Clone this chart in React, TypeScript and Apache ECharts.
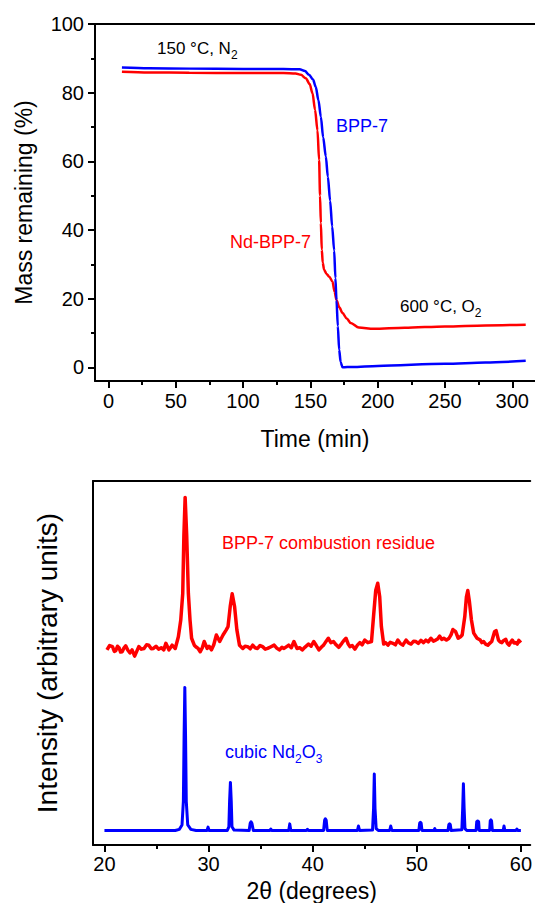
import React, { useEffect, useRef } from 'react';
import * as echarts from 'echarts';

// ---------- TGA panel (top) ----------
const tgaTimeTicks = [0, 50, 100, 150, 200, 250, 300];
const tgaTimeMinor = [25, 75, 125, 175, 225, 275];
const tgaMassTicks = [0, 20, 40, 60, 80, 100];
const tgaMassMinor = [10, 30, 50, 70, 90];

// [time (min), mass remaining (%)]
const bpp7Mass: [number, number][] = [
  [10, 87.3], [30, 87.1], [60, 87.0], [100, 86.9], [130, 86.9], [142, 86.8],
  [146, 86.3], [149, 85.2], [152, 83.8], [154, 81.7], [156, 77.8], [157.8, 73],
  [159.5, 67], [161.5, 61.4], [163, 55.5], [164.7, 48.5], [166.2, 41], [167.7, 34],
  [168.6, 26], [169.4, 19.6], [170.4, 12], [171.4, 5.1], [172.5, 1.5], [173.9, 0],
  [181, 0.1], [200, 0.4], [250, 1.0], [280, 1.4], [310, 1.9],
];
const ndBpp7Mass: [number, number][] = [
  [10, 86.1], [30, 85.9], [60, 85.8], [100, 85.7], [130, 85.7], [139, 85.6],
  [143, 85.2], [146.6, 84.2], [149.5, 82.5], [151.6, 79.8], [153.5, 75], [155.3, 69],
  [156.5, 60.4], [157.2, 50], [157.8, 42], [158.5, 34.2], [159.2, 30.5], [160.2, 28.4],
  [162, 27.2], [164, 26.4], [166.4, 25.0], [168, 22], [169.4, 19.6], [171.5, 17.5],
  [173.9, 15.8], [177, 14.2], [180, 12.9], [186, 11.6], [197, 11.2], [220, 11.5],
  [250, 11.9], [280, 12.2], [310, 12.4],
];

// ---------- XRD panel (bottom) ----------
const xrdTicks = [20, 30, 40, 50, 60];
const xrdMinor = [25, 35, 45, 55];

// [2θ (deg), intensity (offset, arbitrary units)]
const residueXrd: [number, number][] = [
  [20.24, 53.6], [20.5, 54.8], [20.77, 54.5], [20.95, 53.2], [21.09, 53.4], [21.25, 54.6],
  [21.4, 54.2], [21.55, 53.0], [21.7, 53.1], [21.85, 54.0], [22.04, 54.7], [22.25, 53.5],
  [22.45, 52.8], [22.65, 53.6], [22.9, 51.9], [23.1, 53.2], [23.3, 54.5], [23.55, 53.8],
  [23.8, 54.0], [24.05, 55.0], [24.26, 54.9], [24.5, 53.9], [24.7, 54.0], [24.95, 54.6],
  [25.2, 53.8], [25.45, 54.2], [25.7, 53.6], [25.9, 55.4], [26.2, 53.6], [26.5, 54.9],
  [26.8, 54.0], [27.1, 57.2], [27.33, 61.8], [27.52, 69.1], [27.63, 85], [27.75, 95.5],
  [27.9, 85], [28.06, 69.1], [28.22, 61.8], [28.37, 56.8], [28.63, 54.9], [28.8, 54.4],
  [29.0, 54.0], [29.2, 53.1], [29.4, 54.2], [29.58, 55.9], [29.87, 54.0], [30.05, 54.6],
  [30.28, 53.6], [30.5, 55.0], [30.75, 57.7], [31.07, 55.9], [31.39, 57.7], [31.7, 59.1],
  [31.87, 60.0], [32.08, 65.5], [32.27, 69.0], [32.5, 65.5], [32.72, 59.1], [32.97, 54.9],
  [33.29, 54.0], [33.5, 54.6], [33.76, 54.5], [34.0, 53.9], [34.24, 54.9], [34.45, 54.2],
  [34.7, 54.0], [34.95, 54.8], [35.19, 54.5], [35.45, 53.8], [35.67, 54.0], [35.95, 54.4],
  [36.3, 54.9], [36.55, 54.1], [36.8, 53.6], [37.05, 54.3], [37.25, 54.0], [37.5, 54.5],
  [37.7, 54.9], [37.95, 54.2], [38.2, 55.9], [38.5, 54.0], [38.75, 54.2], [39.0, 53.6],
  [39.25, 54.3], [39.6, 55.2], [39.85, 54.6], [40.1, 55.9], [40.35, 54.8], [40.6, 53.6],
  [40.85, 54.4], [41.05, 54.9], [41.3, 56.0], [41.5, 56.8], [41.75, 55.6], [42.0, 55.9],
  [42.25, 55.0], [42.5, 54.3], [42.8, 55.4], [43.0, 56.2], [43.2, 56.8], [43.4, 55.3],
  [43.58, 54.5], [43.8, 54.8], [44.06, 53.8], [44.3, 54.9], [44.53, 55.6], [44.75, 55.0],
  [45.0, 56.3], [45.3, 55.6], [45.65, 55.9], [45.87, 63.6], [46.06, 70.0], [46.25, 71.9],
  [46.44, 68.2], [46.6, 60.0], [46.82, 55.2], [47.0, 55.6], [47.23, 54.9], [47.45, 55.7],
  [47.7, 55.4], [47.95, 55.0], [48.18, 56.3], [48.4, 55.4], [48.66, 54.9], [48.97, 56.3],
  [49.2, 55.5], [49.45, 55.2], [49.7, 56.0], [49.92, 55.9], [50.15, 55.4], [50.4, 56.2],
  [50.65, 55.6], [50.87, 56.3], [51.1, 55.8], [51.35, 56.8], [51.6, 56.0], [51.82, 56.3],
  [52.0, 56.6], [52.2, 57.4], [52.4, 56.5], [52.6, 56.8], [52.85, 56.3], [53.1, 56.8],
  [53.3, 57.8], [53.47, 59.2], [53.73, 58.6], [53.98, 56.8], [54.2, 57.2], [54.36, 57.7],
  [54.61, 62.7], [54.77, 68.2], [54.9, 69.9], [55.06, 66.8], [55.25, 61.8], [55.47, 58.2],
  [55.79, 56.8], [56.1, 56.3], [56.25, 55.6], [56.42, 55.9], [56.6, 55.2], [56.83, 54.9],
  [57.0, 55.4], [57.2, 55.9], [57.47, 58.6], [57.62, 58.9], [57.85, 56.3], [58.0, 55.8],
  [58.17, 55.6], [58.35, 56.2], [58.55, 56.5], [58.7, 55.4], [58.86, 54.9], [59.0, 55.6],
  [59.17, 56.3], [59.35, 55.5], [59.5, 55.6], [59.65, 55.2], [59.8, 56.2], [60.0, 55.6],
];
const cubicNd2O3Xrd: [number, number][] = [
  [20, 4.0], [26.8, 4.0], [27.2, 4.3], [27.45, 5.5], [27.58, 12], [27.65, 30], [27.72, 43.3],
  [27.79, 30], [27.86, 12], [28.0, 5.5], [28.3, 4.3], [28.8, 4.0], [29.85, 4.0], [29.95, 4.9],
  [30.05, 4.0], [31.8, 4.0], [31.95, 5.0], [32.02, 12], [32.1, 17.2], [32.18, 12], [32.25, 5.0],
  [32.45, 4.1], [33.9, 4.0], [34.0, 6.0], [34.08, 6.4], [34.16, 6.0], [34.3, 4.0], [35.9, 4.0],
  [35.98, 4.4], [36.06, 4.0], [37.7, 4.0], [37.8, 5.8], [37.9, 4.0], [39.4, 4.0], [39.5, 4.3],
  [39.6, 4.0], [41.05, 4.0], [41.15, 6.8], [41.22, 7.2], [41.3, 6.8], [41.4, 4.0], [44.3, 4.0],
  [44.4, 5.2], [44.5, 4.0], [45.75, 4.1], [45.85, 10], [45.92, 19.5], [45.99, 10], [46.1, 4.5],
  [46.3, 4.0], [47.4, 4.0], [47.5, 5.2], [47.6, 4.0], [50.2, 4.0], [50.28, 6.0], [50.35, 6.2],
  [50.42, 6.0], [50.5, 4.0], [51.65, 4.0], [51.73, 4.5], [51.8, 4.0], [53.0, 4.0], [53.08, 5.6],
  [53.15, 5.8], [53.22, 5.6], [53.3, 4.0], [54.33, 4.2], [54.41, 10], [54.48, 16.8], [54.55, 10],
  [54.63, 4.5], [54.8, 4.0], [55.7, 4.0], [55.76, 6.4], [55.85, 6.6], [55.94, 6.4], [56.0, 4.0],
  [57.0, 4.0], [57.06, 6.7], [57.12, 6.9], [57.18, 6.7], [57.26, 4.0], [58.3, 4.0], [58.38, 5.2],
  [58.46, 4.0], [59.55, 4.0], [59.62, 4.4], [59.7, 4.0], [60.0, 4.0],
];

const FONT = '"Liberation Sans", Arial, Helvetica, sans-serif';
const AX = { lineStyle: { color: '#000', width: 2 } };

function frameAxis(gridIndex: number, position: 'top' | 'bottom', min: number, max: number) {
  return {
    type: 'value', gridIndex, position, min, max,
    axisLine: { show: true, onZero: false, ...AX },
    axisTick: { show: false }, axisLabel: { show: false }, splitLine: { show: false },
  };
}

function minorAxis(kind: 'x' | 'y', gridIndex: number, min: number, max: number, values: number[], len: number) {
  return {
    type: 'value', gridIndex, min, max,
    position: kind === 'x' ? 'bottom' : 'left',
    axisLine: { show: false, onZero: false },
    axisTick: { show: true, inside: false, length: len, customValues: values, lineStyle: { color: '#000', width: 2 } },
    axisLabel: { show: false }, splitLine: { show: false },
  };
}

const subRich = {
  sub: { fontSize: 12, lineHeight: 6, verticalAlign: 'bottom', fontFamily: FONT },
};

function note(x: number, y: number, text: string, color: string, size: number) {
  return {
    type: 'text', x, y, silent: true,
    style: {
      text, fill: color, font: `${size}px ${FONT}`, fontSize: size, fontFamily: FONT,
      lineHeight: 26, textVerticalAlign: 'middle', verticalAlign: 'middle', align: 'left',
      rich: { ...subRich, sub: { ...subRich.sub, fill: color } },
    },
  };
}

export default function App() {
  const ref = useRef<HTMLDivElement>(null);
  useEffect(() => {
    if (!ref.current) return;
    const chart = echarts.init(ref.current, undefined, { renderer: 'svg' });
    const tMin = -10, tMax = 316.9;
    const mMin = -4, mMax = 100;
    const dMin = 18.9, dMax = 60.9;
    chart.setOption({
      animation: false,
      backgroundColor: '#fff',
      textStyle: { fontFamily: FONT },
      grid: [
        { left: 95, top: 24, right: 0, height: 357 },
        { left: 93, top: 481, right: 0, height: 364 },
      ],
      xAxis: [
        {
          type: 'value', gridIndex: 0, position: 'bottom', min: tMin, max: tMax,
          axisLine: { show: true, onZero: false, ...AX },
          axisTick: { show: true, length: 7, customValues: tgaTimeTicks, lineStyle: { color: '#000', width: 2 } },
          axisLabel: { show: true, customValues: tgaTimeTicks, fontSize: 20, color: '#000', margin: 10, fontFamily: FONT },
          splitLine: { show: false },
          name: 'Time (min)', nameLocation: 'middle', nameGap: 46,
          nameTextStyle: { fontSize: 23, color: '#000', fontFamily: FONT },
        },
        minorAxis('x', 0, tMin, tMax, tgaTimeMinor, 4),
        frameAxis(0, 'top', tMin, tMax),
        {
          type: 'value', gridIndex: 1, position: 'bottom', min: dMin, max: dMax,
          axisLine: { show: true, onZero: false, ...AX },
          axisTick: { show: true, length: 7, customValues: xrdTicks, lineStyle: { color: '#000', width: 2 } },
          axisLabel: { show: true, customValues: xrdTicks, fontSize: 20, color: '#000', margin: 9, fontFamily: FONT },
          splitLine: { show: false },
          name: '2θ (degrees)', nameLocation: 'middle', nameGap: 34,
          nameTextStyle: { fontSize: 23, color: '#000', fontFamily: FONT },
        },
        minorAxis('x', 1, dMin, dMax, xrdMinor, 4),
        frameAxis(1, 'top', dMin, dMax),
      ],
      yAxis: [
        {
          type: 'value', gridIndex: 0, position: 'left', min: mMin, max: mMax,
          axisLine: { show: true, onZero: false, ...AX },
          axisTick: { show: true, length: 7, customValues: tgaMassTicks, lineStyle: { color: '#000', width: 2 } },
          axisLabel: { show: true, customValues: tgaMassTicks, fontSize: 20, color: '#000', margin: 11, fontFamily: FONT },
          splitLine: { show: false },
          name: 'Mass remaining (%)', nameLocation: 'middle', nameGap: 60, nameRotate: 90,
          nameTextStyle: { fontSize: 23, color: '#000', fontFamily: FONT },
        },
        minorAxis('y', 0, mMin, mMax, tgaMassMinor, 4),
        {
          type: 'value', gridIndex: 1, position: 'left', min: 0, max: 100,
          axisLine: { show: true, onZero: false, ...AX },
          axisTick: { show: false }, axisLabel: { show: false }, splitLine: { show: false },
          name: 'Intensity (arbitrary units)', nameLocation: 'middle', nameGap: 32, nameRotate: 90,
          nameTextStyle: { fontSize: 28, color: '#000', fontFamily: FONT },
        },
      ],
      series: [
        {
          name: 'BPP-7', type: 'line', xAxisIndex: 0, yAxisIndex: 0, data: bpp7Mass,
          showSymbol: false, smooth: 0.3, smoothMonotone: 'x',
          lineStyle: { color: '#0000ff', width: 2.5 }, z: 3,
        },
        {
          name: 'Nd-BPP-7', type: 'line', xAxisIndex: 0, yAxisIndex: 0, data: ndBpp7Mass,
          showSymbol: false, smooth: 0.3, smoothMonotone: 'x',
          lineStyle: { color: '#ff0000', width: 2.5 }, z: 2,
        },
        {
          name: 'BPP-7 combustion residue', type: 'line', xAxisIndex: 3, yAxisIndex: 2, data: residueXrd,
          showSymbol: false, smooth: false,
          lineStyle: { color: '#ff0000', width: 3.5, join: 'round' },
        },
        {
          name: 'cubic Nd2O3', type: 'line', xAxisIndex: 3, yAxisIndex: 2, data: cubicNd2O3Xrd,
          showSymbol: false, smooth: false,
          lineStyle: { color: '#0000ff', width: 3, join: 'round' },
        },
      ],
      graphic: [
        note(157, 48, '150 °C, N{sub|2}', '#000', 17),
        note(336, 126, 'BPP-7', '#0000ff', 18),
        note(230, 242, 'Nd-BPP-7', '#ff0000', 18),
        note(400, 306, '600 °C, O{sub|2}', '#000', 17),
        note(222, 543, 'BPP-7 combustion residue', '#ff0000', 18),
        note(225, 752, 'cubic Nd{sub|2}O{sub|3}', '#0000ff', 18),
      ],
    });
    return () => chart.dispose();
  }, []);
  return (
    <div
      ref={ref}
      style={{ position: 'fixed', left: 0, top: 0, width: 535, height: 903, background: '#fff' }}
    />
  );
}
